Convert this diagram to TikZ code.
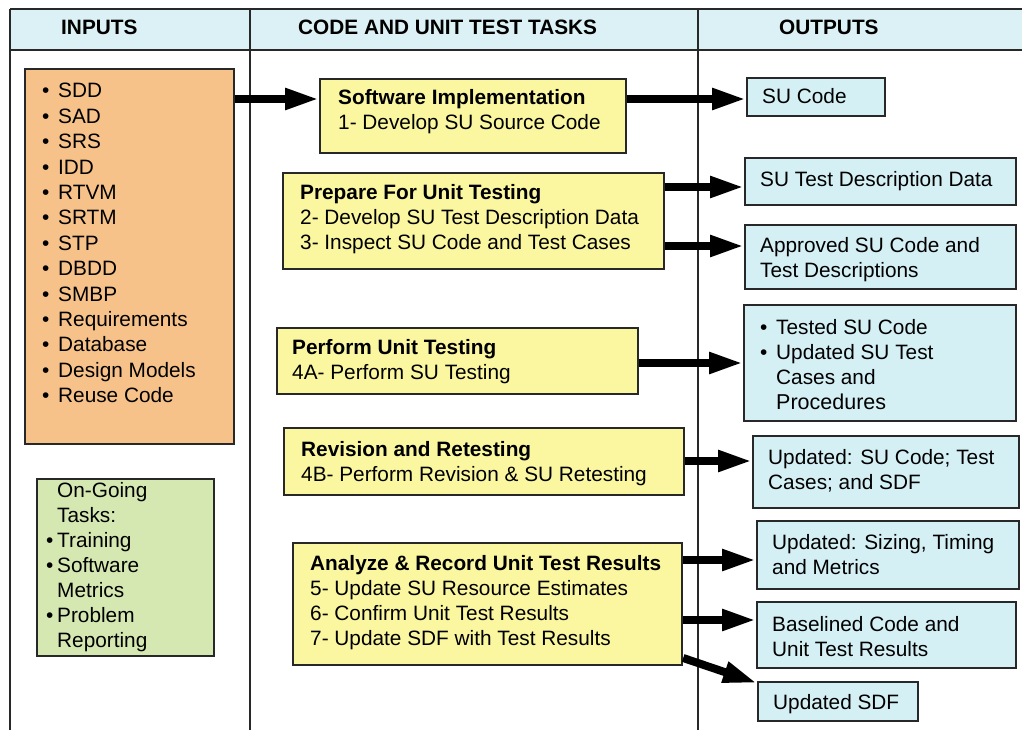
\documentclass[tikz,border=0pt]{standalone}
\usepackage{fontspec}
\setmainfont{Liberation Sans}
\usetikzlibrary{arrows.meta}
\definecolor{hdr}{RGB}{220,241,245}
\definecolor{orng}{RGB}{247,194,138}
\definecolor{grn}{RGB}{214,232,178}
\definecolor{ylw}{RGB}{250,247,160}
\definecolor{cyn}{RGB}{212,240,245}
\definecolor{edge}{RGB}{40,40,40}
\newcommand\ml[1]{\begin{tabular}[t]{@{}l@{}}#1\end{tabular}}
\newcommand\bl[1]{\makebox[16pt][l]{\textbullet}#1}
\newcommand\gb[1]{\makebox[11pt][l]{\textbullet}#1}
\tikzset{
  box/.style={draw=edge, line width=2.2pt, inner sep=0pt, anchor=north west},
  txt/.style={anchor=base west, inner sep=0pt, font=\fontsize{20.8}{25}\selectfont},
  hd/.style={anchor=base west, inner sep=0pt, font=\fontsize{20.8}{25}\selectfont\bfseries},
  arr/.style={line width=8pt, -{Triangle[length=34pt,width=20pt]}},
  rule/.style={draw=edge, line width=1.5pt}
}
\begin{document}
\begin{tikzpicture}[x=1pt,y=-1pt]
\useasboundingbox (0,0) rectangle (1022,730);
% header band and column rules
\fill[hdr] (10,9) rectangle (1022,50);
\draw[rule, line width=2.4pt] (10,9) -- (1022,9);
\draw[rule, line width=2pt] (10,50) -- (1022,50);
\draw[rule] (10,9) -- (10,730);
\draw[rule] (250,9) -- (250,730);
\draw[rule] (698,9) -- (698,730);
\node[hd] (h1) at (61,35) {INPUTS};
\node[hd] (h2) at (298,35) {CODE AND UNIT TEST TASKS};
\node[hd] (h3) at (779,35) {OUTPUTS};
% inputs
\node[box, fill=orng, minimum width=209pt, minimum height=375pt] (orange) at (24,68) {};
\node[txt] (orangetxt) at (42,98) {\fontsize{20.8}{25.4}\selectfont\ml{\bl{SDD}\\ \bl{SAD}\\ \bl{SRS}\\ \bl{IDD}\\ \bl{RTVM}\\ \bl{SRTM}\\ \bl{STP}\\ \bl{DBDD}\\ \bl{SMBP}\\ \bl{Requirements}\\ \bl{Database}\\ \bl{Design Models}\\ \bl{Reuse Code}}};
\node[box, fill=grn, minimum width=177pt, minimum height=177pt] (green) at (36,478) {};
\node[txt] (greentxt) at (46,497) {\fontsize{20.8}{25}\selectfont\ml{\hspace{11pt}On-Going\\ \hspace{11pt}Tasks:\\ \gb{Training}\\ \gb{Software}\\ \hspace{11pt}Metrics\\ \gb{Problem}\\ \hspace{11pt}Reporting}};
% tasks
\node[box, fill=ylw, minimum width=306pt, minimum height=74pt] (si) at (319,78) {};
\node[txt] (sitxt) at (338,105) {\ml{\textbf{Software Implementation}\\ 1- Develop SU Source Code}};
\node[box, fill=ylw, minimum width=381pt, minimum height=96pt] (prep) at (282,172) {};
\node[txt] (preptxt) at (300,200) {\ml{\textbf{Prepare For Unit Testing}\\ 2- Develop SU Test Description Data\\ 3- Inspect SU Code and Test Cases}};
\node[box, fill=ylw, minimum width=361pt, minimum height=66pt] (perf) at (276,327) {};
\node[txt] (perftxt) at (292,354) {\ml{\textbf{Perform Unit Testing}\\ 4A- Perform SU Testing}};
\node[box, fill=ylw, minimum width=400pt, minimum height=67pt] (rev) at (283,427) {};
\node[txt] (revtxt) at (301,456) {\ml{\textbf{Revision and Retesting}\\ 4B- Perform Revision \& SU Retesting}};
\node[box, fill=ylw, minimum width=389pt, minimum height=122pt] (ana) at (292,542) {};
\node[txt] (anatxt) at (310,570) {\ml{\textbf{Analyze \& Record Unit Test Results}\\ 5- Update SU Resource Estimates\\ 6- Confirm Unit Test Results\\ 7- Update SDF with Test Results}};
% outputs
\node[box, fill=cyn, minimum width=138pt, minimum height=38pt] (sucode) at (746,77) {};
\node[txt] (sucodetxt) at (762,104) {SU Code};
\node[box, fill=cyn, minimum width=271pt, minimum height=47pt] (sutdd) at (744,157) {};
\node[txt] (sutddtxt) at (760,186) {SU Test Description Data};
\node[box, fill=cyn, minimum width=271pt, minimum height=64pt] (appr) at (744,224) {};
\node[txt] (apprtxt) at (760,252) {\ml{Approved SU Code and\\ Test Descriptions}};
\node[box, fill=cyn, minimum width=272pt, minimum height=116pt] (tested) at (743,304) {};
\node[txt] (testedtxt) at (760,334) {\ml{\bl{Tested SU Code}\\ \bl{Updated SU Test}\\ \hspace{16pt}Cases and\\ \hspace{16pt}{\fontsize{21.5}{25}\selectfont Procedures}}};
\node[box, fill=cyn, minimum width=266pt, minimum height=72pt] (upd1) at (752,435) {};
\node[txt] (upd1txt) at (768,464) {\ml{Updated: SU Code; Test\\ Cases; and SDF}};
\node[box, fill=cyn, minimum width=262pt, minimum height=68pt] (upd2) at (756,520) {};
\node[txt] (upd2txt) at (772,549) {\ml{Updated: Sizing, Timing\\ and Metrics}};
\node[box, fill=cyn, minimum width=259pt, minimum height=66pt] (base) at (756,601) {};
\node[txt] (basetxt) at (772,631) {\ml{Baselined Code and\\ Unit Test Results}};
\node[box, fill=cyn, minimum width=160pt, minimum height=39pt] (sdf) at (757,681) {};
\node[txt] (sdftxt) at (773,709) {Updated SDF};
% arrows
\draw[arr] ([yshift=-31pt]orange.north east) -- ([yshift=-21pt]si.north west);
\draw[arr] ([yshift=-21pt]si.north east) -- ([yshift=-22pt]sucode.north west);
\draw[arr] ([yshift=-15pt]prep.north east) -- ([yshift=-30pt]sutdd.north west);
\draw[arr] ([yshift=-74pt]prep.north east) -- ([yshift=-22pt]appr.north west);
\draw[arr] ([yshift=-36pt]perf.north east) -- ([yshift=-59pt]tested.north west);
\draw[arr] ([yshift=-34pt]rev.north east) -- ([yshift=-26pt]upd1.north west);
\draw[arr] ([yshift=-18pt]ana.north east) -- ([yshift=-40pt]upd2.north west);
\draw[arr] ([yshift=-78pt]ana.north east) -- ([yshift=-19pt]base.north west);
\draw[arr] ([yshift=-116pt]ana.north east) -- ([yshift=-2pt]sdf.north west);
\end{tikzpicture}
\end{document}
